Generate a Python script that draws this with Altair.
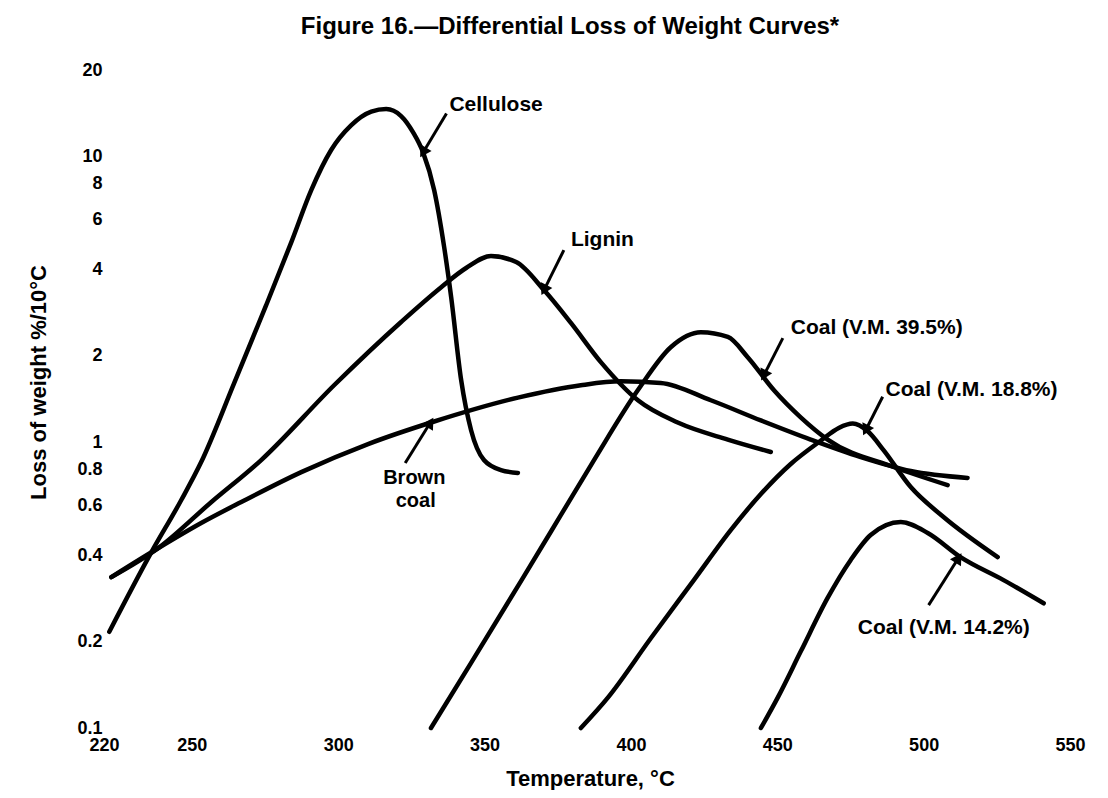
import math
import altair as alt
import pandas as pd

# ---------------- data ----------------
# temperature (°C) and loss of weight (%/10°C)
cellulose_t = [221.8, 236.2, 246.4, 253.2, 264.5, 275.4, 284.0, 290.8, 297.6, 304.4,
               311.3, 316.4, 321.5, 325.6, 329.0, 332.8, 336.2, 338.6, 342.0, 345.4,
               349.8, 355.6, 361.4]
cellulose_v = [0.217, 0.412, 0.627, 0.851, 1.61, 3.01, 5.00, 7.60, 10.5, 12.8,
               14.3, 14.6, 13.8, 12.1, 10.3, 7.60, 4.81, 3.21, 1.65, 1.10,
               0.865, 0.798, 0.78]

lignin_t = [222.5, 238.6, 256.7, 273.7, 298.6, 321.5, 335.2, 343.7, 352.2, 360.8,
            370.3, 379.5, 389.8, 402.4, 416.0, 433.1, 447.8]
lignin_v = [0.337, 0.426, 0.617, 0.865, 1.58, 2.63, 3.48, 4.06, 4.47, 4.26,
            3.40, 2.61, 1.90, 1.40, 1.17, 1.02, 0.923]

brown_t = [222.5, 238.6, 253.2, 266.9, 287.4, 310.2, 332.8, 361.4, 382.9, 396.6,
           410.2, 427.3, 444.4, 461.4, 478.5, 495.6, 515.0]
brown_v = [0.337, 0.426, 0.521, 0.617, 0.785, 0.984, 1.18, 1.43, 1.58, 1.63,
           1.61, 1.40, 1.19, 1.02, 0.886, 0.792, 0.749]

coal395_t = [331.7, 345.4, 362.5, 376.1, 387.4, 402.4, 413.7, 423.9, 433.1, 439.9,
             448.8, 458.0, 467.2, 489.8, 508.2]
coal395_v = [0.1, 0.169, 0.327, 0.556, 0.865, 1.52, 2.15, 2.42, 2.33, 1.98,
             1.52, 1.22, 1.02, 0.818, 0.707]

coal188_t = [382.9, 392.2, 406.8, 421.5, 434.1, 444.4, 454.6, 464.8, 471.0, 475.8,
             480.9, 486.3, 495.6, 506.8, 525.3]
coal188_v = [0.1, 0.128, 0.206, 0.329, 0.492, 0.658, 0.838, 1.01, 1.12, 1.16,
             1.09, 0.937, 0.696, 0.547, 0.396]

coal142_t = [444.4, 450.2, 458.0, 467.2, 475.1, 481.9, 492.2, 501.4, 512.6, 527.3, 541.0]
coal142_v = [0.1, 0.128, 0.185, 0.285, 0.387, 0.473, 0.525, 0.481, 0.396, 0.329, 0.273]

# curve labels: left-aligned ones (data coordinates of the left edge)
label_text = ["Cellulose", "Lignin", "Coal (V.M. 39.5%)", "Coal (V.M. 18.8%)",
              "Coal (V.M. 14.2%)"]
label_t = [338.0, 379.5, 454.6, 487.0, 477.5]
label_v = [15.1, 5.08, 2.50, 1.52, 0.224]

# centred two-line label of the brown coal curve
brown_text = ["Brown", "coal"]
brown_label_t = [326.0, 326.5]
brown_label_v = [0.748, 0.622]

# pointer arrows (tail -> head, data coordinates)
arrow_t0 = [337.0, 377.1, 451.9, 486.0, 501.7, 322.9]
arrow_v0 = [14.1, 4.69, 2.31, 1.44, 0.269, 0.845]
arrow_t1 = [329.0, 370.3, 445.4, 480.2, 511.9, 331.5]
arrow_v1 = [10.3, 3.40, 1.71, 1.10, 0.393, 1.17]

x_ticks = [220, 250, 300, 350, 400, 450, 500, 550]
y_ticks = [0.1, 0.2, 0.4, 0.6, 0.8, 1, 2, 4, 6, 8, 10, 20]

title_text = "Figure 16.—Differential Loss of Weight Curves*"

X_DOMAIN = [220, 550]
Y_DOMAIN = [0.1, 20]
W, H = 966, 658
FONT = "Liberation Sans"

# ---------------- tables ----------------
series = [
    ("Cellulose", cellulose_t, cellulose_v),
    ("Lignin", lignin_t, lignin_v),
    ("Brown coal", brown_t, brown_v),
    ("Coal 39.5", coal395_t, coal395_v),
    ("Coal 18.8", coal188_t, coal188_v),
    ("Coal 14.2", coal142_t, coal142_v),
]
rows = []
for name, ts, vs in series:
    for t, v in zip(ts, vs):
        rows.append({"series": name, "t": t, "v": v})
curves = pd.DataFrame(rows)

labels = pd.DataFrame({"text": label_text, "t": label_t, "v": label_v})
brown_labels = pd.DataFrame({"text": brown_text, "t": brown_label_t, "v": brown_label_v})
title_df = pd.DataFrame({"text": [title_text]})


def px(t):
    return (t - X_DOMAIN[0]) / (X_DOMAIN[1] - X_DOMAIN[0]) * W


def py(v):
    lo, hi = math.log10(Y_DOMAIN[0]), math.log10(Y_DOMAIN[1])
    return H * (1 - (math.log10(v) - lo) / (hi - lo))


angles = []
for t0, v0, t1, v1 in zip(arrow_t0, arrow_v0, arrow_t1, arrow_v1):
    dx = px(t1) - px(t0)
    dy = py(v1) - py(v0)
    angles.append(math.degrees(math.atan2(dx, -dy)) % 360)

arrows = pd.DataFrame({"t0": arrow_t0, "v0": arrow_v0, "t1": arrow_t1,
                       "v1": arrow_v1, "angle": angles})

# ---------------- chart ----------------
xscale = alt.Scale(domain=X_DOMAIN, nice=False, zero=False)
yscale = alt.Scale(type="log", domain=Y_DOMAIN, nice=False)

x_axis = alt.Axis(values=x_ticks, format="d", title="Temperature, °C",
                  labelFlush=False, labelPadding=8, titleX=486, titleY=50,
                  titleAlign="center", titleBaseline="middle")
y_axis = alt.Axis(values=y_ticks, format="~g", title="Loss of weight %/10°C",
                  labelPadding=2, labelOverlap=False, titleX=-66, titleY=312,
                  titleAngle=270, titleAlign="center", titleBaseline="middle")

lines = alt.Chart(curves).mark_line(
    color="black", strokeWidth=4.5, interpolate="monotone",
    strokeCap="round", strokeJoin="round"
).encode(
    x=alt.X("t:Q", scale=xscale, axis=x_axis),
    y=alt.Y("v:Q", scale=yscale, axis=y_axis),
    detail="series:N",
)

shafts = alt.Chart(arrows).mark_rule(color="black", strokeWidth=3).encode(
    x=alt.X("t0:Q", scale=xscale),
    y=alt.Y("v0:Q", scale=yscale),
    x2="t1:Q",
    y2="v1:Q",
)

heads = alt.Chart(arrows).mark_point(
    shape="triangle-up", filled=True, color="black", size=170, opacity=1
).encode(
    x=alt.X("t1:Q", scale=xscale),
    y=alt.Y("v1:Q", scale=yscale),
    angle=alt.Angle("angle:Q", scale=None),
)

texts = alt.Chart(labels).mark_text(
    align="left", baseline="middle", font=FONT, fontSize=21,
    fontWeight="bold", color="black"
).encode(
    x=alt.X("t:Q", scale=xscale),
    y=alt.Y("v:Q", scale=yscale),
    text="text:N",
)

brown_texts = alt.Chart(brown_labels).mark_text(
    align="center", baseline="middle", font=FONT, fontSize=20,
    fontWeight="bold", color="black"
).encode(
    x=alt.X("t:Q", scale=xscale),
    y=alt.Y("v:Q", scale=yscale),
    text="text:N",
)

title = alt.Chart(title_df).mark_text(
    align="center", baseline="middle", font=FONT, fontSize=24,
    fontWeight="bold", color="black"
).encode(
    x=alt.value(466),
    y=alt.value(-43),
    text="text:N",
)

chart = alt.layer(lines, shafts, heads, texts, brown_texts, title).properties(
    width=W,
    height=H,
    autosize=alt.AutoSizeParams(type="none"),
    padding={"left": 96, "top": 62, "right": 30, "bottom": 62},
    background="white",
).configure_view(stroke=None).configure_axis(
    domain=False, ticks=False, tickSize=0, grid=False,
    labelFont=FONT, labelFontSize=18, labelFontWeight="bold", labelColor="black",
    titleFont=FONT, titleFontSize=22, titleFontWeight="bold", titleColor="black",
)

chart.save("out.html", embed_options={"renderer": "svg", "actions": False})
